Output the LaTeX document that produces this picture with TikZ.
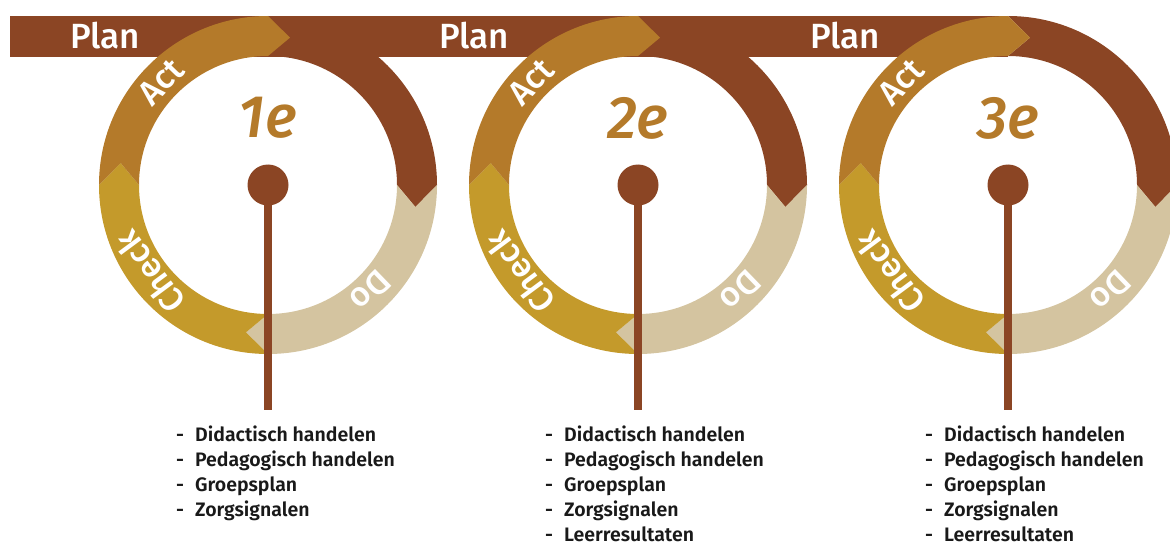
\documentclass[tikz,border=0pt]{standalone}
\usepackage{fontspec}
\setmainfont{Fira Sans}
\newfontfamily\medfont{Fira Sans Medium}
\newfontfamily\listfont{Fira Sans SemiBold}
\usetikzlibrary{calc}
\definecolor{plan}{HTML}{8B4524}
\definecolor{act}{HTML}{B47A2A}
\definecolor{check}{HTML}{C49A2B}
\definecolor{do}{HTML}{D4C4A0}
\tikzset{
  ringtext/.style={text=white,inner sep=0pt,font=\medfont\fontsize{34}{34}\selectfont},
  plantext/.style={text=white,inner sep=0pt,font=\medfont\fontsize{35}{35}\selectfont},
  ordinal/.style={text=act,inner sep=0pt,font=\medfont\fontsize{60}{60}\selectfont\itshape},
  dot/.style={circle,fill=plan,minimum size=41pt,inner sep=0pt},
  stem/.style={draw=plan,line width=8pt},
  items/.style={anchor=north west,inner sep=0pt,align=left,text=black!90,font=\listfont\fontsize{19.5}{25}\selectfont}
}
\newcommand\ringpart[4]{%
  \fill[#4] ($(#1)+(#2:169pt)$) arc[start angle=#2,end angle=#3,radius=169pt]
    -- ($(#1)+(#3-8.5:149pt)$) -- ($(#1)+(#3:129pt)$)
    arc[start angle=#3,end angle=#2,radius=129pt]
    -- ($(#1)+(#2-8.5:149pt)$) -- cycle;}
\newcommand\itm[1]{\makebox[19pt][l]{-}#1}
\begin{document}
\begin{tikzpicture}[x=1pt,y=1pt]
  \useasboundingbox (0,0) rectangle (1170,542);
  \fill[plan] (10,485) rectangle (1008,526);
  \foreach \i/\x/\lab in {1/268/1e,2/638/2e,3/1008/3e}{
    \coordinate (c\i) at (\x,357);
    \ringpart{c\i}{90}{0}{plan}
    \ringpart{c\i}{0}{-90}{do}
    \ringpart{c\i}{270}{180}{check}
    \ringpart{c\i}{180}{90}{act}
    \node[ringtext,rotate=46] (a\i) at ($(c\i)+(136:149pt)$) {Act};
    \node[ringtext,rotate=126.5] (k\i) at ($(c\i)+(216.5:147pt)$) {Check};
    \node[ringtext,rotate=-136] (o\i) at ($(c\i)+(-46:147pt)$) {Do};
    \node[ordinal] (n\i) at (\x,424) {\lab};
    \coordinate (e\i) at (\x,132);
    \draw[stem] (c\i) -- (e\i);
    \node[dot] (d\i) at (c\i) {};
  }
  \node[plantext] (p1) at (105,506) {Plan};
  \node[plantext] (p2) at (474,506) {Plan};
  \node[plantext] (p3) at (845,506) {Plan};
  \node[items] (l1) at (176,116) {\itm{Didactisch handelen}\\\itm{Pedagogisch handelen}\\\itm{Groepsplan}\\\itm{Zorgsignalen}};
  \node[items] (l2) at (545,116) {\itm{Didactisch handelen}\\\itm{Pedagogisch handelen}\\\itm{Groepsplan}\\\itm{Zorgsignalen}\\\itm{Leerresultaten}};
  \node[items] (l3) at (925,116) {\itm{Didactisch handelen}\\\itm{Pedagogisch handelen}\\\itm{Groepsplan}\\\itm{Zorgsignalen}\\\itm{Leerresultaten}};
\end{tikzpicture}
\end{document}
